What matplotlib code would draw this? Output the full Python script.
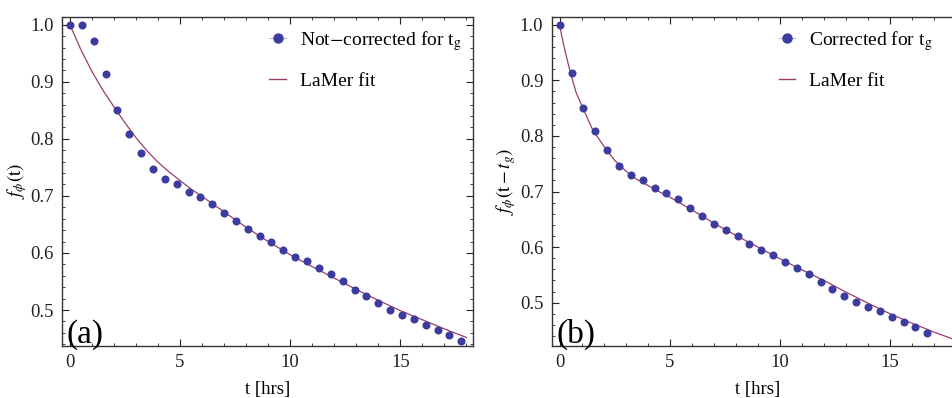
import numpy as np
import matplotlib
matplotlib.use("Agg")
import matplotlib.pyplot as plt
from matplotlib.lines import Line2D
from matplotlib.ticker import MultipleLocator

plt.rcParams['font.family'] = ['Liberation Serif', 'DejaVu Serif']
plt.rcParams['mathtext.fontset'] = 'stix'

# measured points, panel (a): not corrected for t_g
t_a = [0.0, 0.54, 1.08, 1.62, 2.15, 2.69, 3.23, 3.77, 4.31, 4.85, 5.39, 5.92,
       6.46, 7.0, 7.54, 8.08, 8.62, 9.15, 9.69, 10.23, 10.77, 11.31, 11.85,
       12.38, 12.92, 13.46, 14.0, 14.54, 15.08, 15.62, 16.15, 16.69, 17.23, 17.77]
f_a = [1.000, 1.000, 0.971, 0.914, 0.851, 0.808, 0.775, 0.747, 0.729, 0.720,
       0.706, 0.698, 0.685, 0.670, 0.656, 0.642, 0.630, 0.619, 0.606, 0.593,
       0.586, 0.574, 0.563, 0.551, 0.536, 0.525, 0.512, 0.500, 0.492, 0.485,
       0.474, 0.465, 0.456, 0.446]

# panel (b): corrected for t_g
t_b = [0.0, 0.54, 1.08, 1.62, 2.15, 2.69, 3.23, 3.77, 4.31, 4.85, 5.39, 5.92,
       6.46, 7.0, 7.54, 8.08, 8.62, 9.15, 9.69, 10.23, 10.77, 11.31, 11.85,
       12.38, 12.92, 13.46, 14.0, 14.54, 15.08, 15.62, 16.15, 16.69]
f_b = [1.000, 0.913, 0.851, 0.808, 0.774, 0.746, 0.729, 0.720, 0.706, 0.697,
       0.686, 0.670, 0.656, 0.642, 0.630, 0.620, 0.606, 0.594, 0.586, 0.574,
       0.563, 0.552, 0.537, 0.525, 0.512, 0.501, 0.492, 0.485, 0.475, 0.465,
       0.456, 0.446]

# LaMer fit curves
fit_t_a = [0.0, 0.5, 1.0, 1.5, 2.0, 2.5, 3.0, 3.5, 4.0, 4.5, 5.0, 5.5, 6.0, 7.0,
           8.0, 9.0, 10.0, 11.0, 12.0, 13.0, 14.0, 15.0, 16.0, 17.0, 18.0]
fit_f_a = [1.000, 0.956, 0.918, 0.885, 0.856, 0.828, 0.802, 0.779, 0.759, 0.742,
           0.727, 0.712, 0.699, 0.672, 0.645, 0.620, 0.597, 0.576, 0.556, 0.536,
           0.517, 0.499, 0.483, 0.467, 0.452]
fit_t_b = [0.0, 0.1, 0.25, 0.5, 0.75, 1.0, 1.5, 2.0, 2.5, 3.0, 3.5, 4.0, 4.5, 5.0,
           6.0, 7.0, 8.0, 9.0, 10.0, 11.0, 12.0, 13.0, 14.0, 15.0, 16.0, 17.0, 18.3]
fit_f_b = [1.000, 0.979, 0.952, 0.912, 0.878, 0.855, 0.811, 0.782, 0.756, 0.737,
           0.722, 0.711, 0.700, 0.690, 0.667, 0.643, 0.621, 0.600, 0.579, 0.559,
           0.540, 0.519, 0.499, 0.480, 0.463, 0.447, 0.428]

dot_col = '#3c3c9e'
fit_col = '#9b3d6b'

fig = plt.figure(figsize=(9.53, 3.98), dpi=100)
ax1 = fig.add_axes([62/953, 52/398, 411/953, 329/398])
ax2 = fig.add_axes([551.7/953, 52/398, 411/953, 329/398])

panels = [
    (ax1, t_a, f_a, fit_t_a, fit_f_a, (0.437, 1.0135),
     r'Not$-$corrected for t$_\mathrm{g}$', r'$f_{\phi}(\mathrm{t})$', '(a)', 1.0),
    (ax2, t_b, f_b, fit_t_b, fit_f_b, (0.422, 1.014),
     r'Corrected for t$_\mathrm{g}$', r'$f_{\phi}(\mathrm{t}-t_g)$', '(b)', 0.955),
]

for ax, t, f, ft, ff, ylim, lab, ylab, tag, lx in panels:
    ax.plot(ft, ff, color=fit_col, lw=0.9, zorder=2)
    ax.plot(t, f, 'o', color=dot_col, ms=5.8, mec='none', zorder=3)
    ax.set_xlim(-0.36, 18.3)
    ax.set_ylim(*ylim)
    ax.xaxis.set_major_locator(MultipleLocator(5))
    ax.xaxis.set_minor_locator(MultipleLocator(1))
    ax.yaxis.set_major_locator(MultipleLocator(0.1))
    ax.yaxis.set_minor_locator(MultipleLocator(0.02))
    ax.yaxis.set_major_formatter(plt.FormatStrFormatter('%.1f'))
    ax.tick_params(which='both', direction='in', top=True, right=True,
                   labelsize=13.5, colors='#222222', pad=6)
    ax.tick_params(which='major', length=5, width=0.8)
    ax.tick_params(which='minor', length=2.5, width=0.6)
    for s in ax.spines.values():
        s.set_color('#333333')
        s.set_linewidth(1.0)
    ax.set_xlabel('t [hrs]', fontsize=13.5, labelpad=7)
    ax.set_ylabel(ylab, fontsize=13.5, labelpad=1)
    ax.text(0.012, -0.012, tag, transform=ax.transAxes, fontsize=24,
            ha='left', va='bottom')
    handles = [
        Line2D([], [], color='#b8b8dc', lw=0.8, marker='o', ms=6.5,
               mfc=dot_col, mec=dot_col),
        Line2D([], [], color=fit_col, lw=1.0),
    ]
    ax.legend(handles, [lab, 'LaMer fit'], loc='upper right',
              bbox_to_anchor=(lx, 1.0), frameon=False,
              fontsize=14, handlelength=0.85, handletextpad=0.7,
              labelspacing=1.0, borderaxespad=0.2)

fig.savefig('out.png', dpi=100)
